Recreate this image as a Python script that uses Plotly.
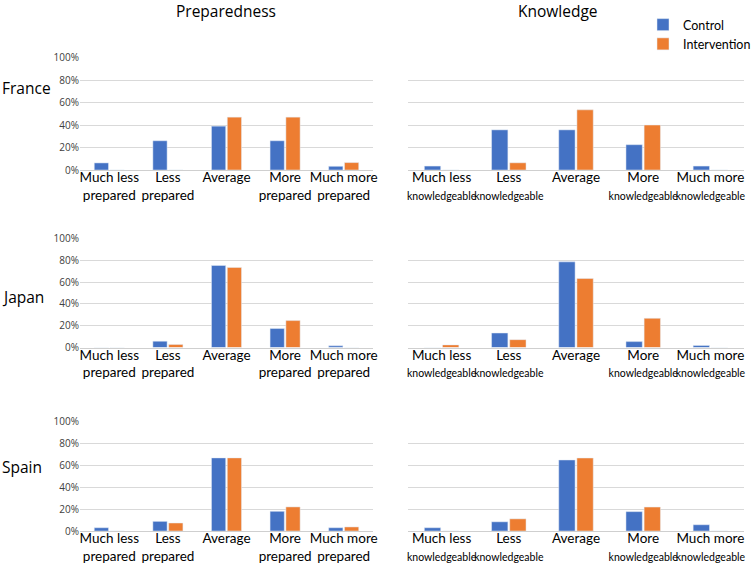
import plotly.graph_objects as go

# ---------------- data ----------------
categories = ["Much less", "Less", "Average", "More", "Much more"]
countries = ["France", "Japan", "Spain"]
panel_titles = ["Preparedness", "Knowledge"]
series_names = ["Control", "Intervention"]

prep_ticks = ["Much less<br>prepared", "Less<br>prepared", "Average",
              "More<br>prepared", "Much more<br>prepared"]
know_word = "knowledgeable"
know_ticks_top = ["Much less", "Less", "Average", "More", "Much more"]
y_tickvals = [0, 20, 40, 60, 80, 100]
y_ticktext = ["0%", "20%", "40%", "60%", "80%", "100%"]

# percentages
prep_control = {
    "France": [6.3, 26, 39, 26, 3.3],
    "Japan":  [0, 5.8, 75.3, 17.4, 1.5],
    "Spain":  [3, 8.8, 66.8, 18, 3],
}
prep_intervention = {
    "France": [0, 0, 47, 47, 6.6],
    "Japan":  [0, 2.7, 73.5, 24.7, 0],
    "Spain":  [0, 7.3, 66.8, 22, 3.7],
}
know_control = {
    "France": [3.5, 35.7, 35.7, 22.5, 3.5],
    "Japan":  [0, 13.3, 78.6, 5.4, 1.8],
    "Spain":  [3, 8.4, 64.9, 17.7, 5.7],
}
know_intervention = {
    "France": [0, 6.4, 53.5, 40, 0],
    "Japan":  [2.4, 7.2, 63.3, 26.8, 0],
    "Spain":  [0, 11.1, 66.7, 21.9, 0],
}

# ---------------- style ----------------
W, H = 752, 564
BLUE = "#4472C4"
ORANGE = "#ED7D31"
GRID = "#D9D9D9"
FONT = "Open Sans"
TFONT = "Lato"

def px_x(p):
    return p / W

def px_y(p):
    return 1 - p / H

col_x = [(80, 373), (408, 744)]
row_y = [(57, 170), (238, 347.5), (421, 531)]

know_ticks = []
for t in know_ticks_top:
    if t == "Average":
        know_ticks.append(t)
    else:
        know_ticks.append(f"{t}<br><span style='font-size:10.5px'>{know_word}</span>")

fig = go.Figure()
layout_axes = {}
idx = 0
for r, country in enumerate(countries):
    for c in range(2):
        idx += 1
        xa = "x" if idx == 1 else f"x{idx}"
        ya = "y" if idx == 1 else f"y{idx}"
        if c == 0:
            ctrl, intv, ticks = prep_control[country], prep_intervention[country], prep_ticks
        else:
            ctrl, intv, ticks = know_control[country], know_intervention[country], know_ticks
        fig.add_trace(go.Bar(x=categories, y=ctrl, name=series_names[0],
                             marker=dict(color=BLUE), xaxis=xa, yaxis=ya,
                             showlegend=(idx == 1)))
        fig.add_trace(go.Bar(x=categories, y=intv, name=series_names[1],
                             marker=dict(color=ORANGE), xaxis=xa, yaxis=ya,
                             showlegend=(idx == 1)))
        xk = "xaxis" if idx == 1 else f"xaxis{idx}"
        yk = "yaxis" if idx == 1 else f"yaxis{idx}"
        x0, x1 = col_x[c]
        y0, y1 = row_y[r]
        layout_axes[xk] = dict(
            domain=[px_x(x0), px_x(x1)], anchor=ya, type="category",
            categoryorder="array", categoryarray=categories,
            tickmode="array", tickvals=categories, ticktext=ticks,
            tickangle=0, automargin=False, ticklabelstandoff=-5,
            showgrid=False, showline=True, linecolor="#CFCFCF", linewidth=1,
            ticks="", tickfont=dict(family=TFONT, size=13.5, color="#000000"),
            fixedrange=True,
        )
        layout_axes[yk] = dict(
            domain=[px_y(y1), px_y(y0)], anchor=xa, range=[0, 100.5],
            tickmode="array", tickvals=y_tickvals, ticktext=y_ticktext,
            automargin=False,
            showticklabels=(c == 0), showgrid=True, gridcolor=GRID, gridwidth=1,
            zeroline=False, showline=False, ticks="",
            tickfont=dict(family=FONT, size=10, color="#404040"),
            fixedrange=True,
        )

annotations = []
col_title_x = [226, 558]
for c, t in enumerate(panel_titles):
    annotations.append(dict(text=t, x=px_x(col_title_x[c]), y=px_y(11), xref="paper", yref="paper",
                            showarrow=False, xanchor="center", yanchor="middle",
                            font=dict(family=FONT, size=15.5, color="#000000")))
row_label_y = [88, 297, 467]
for r, country in enumerate(countries):
    annotations.append(dict(text=country, x=0, y=px_y(row_label_y[r]), xref="paper", yref="paper",
                            showarrow=False, xanchor="left", yanchor="middle",
                            font=dict(family=FONT, size=15.5, color="#000000")))

fig.update_layout(
    width=W, height=H,
    margin=dict(l=0, r=0, t=0, b=0, autoexpand=False),
    paper_bgcolor="white", plot_bgcolor="white",
    barmode="group", bargap=0.46, bargroupgap=0.1,
    showlegend=True,
    legend=dict(x=px_x(643), y=px_y(10), xanchor="left", yanchor="top",
                font=dict(family=TFONT, size=12.5, color="#000000"),
                bgcolor="rgba(0,0,0,0)", itemwidth=30, tracegroupgap=0),
    annotations=annotations,
    font=dict(family=FONT),
    **layout_axes,
)

fig.write_html("out.html", config={"displayModeBar": False},
               post_script="document.body.style.margin='0px';")
